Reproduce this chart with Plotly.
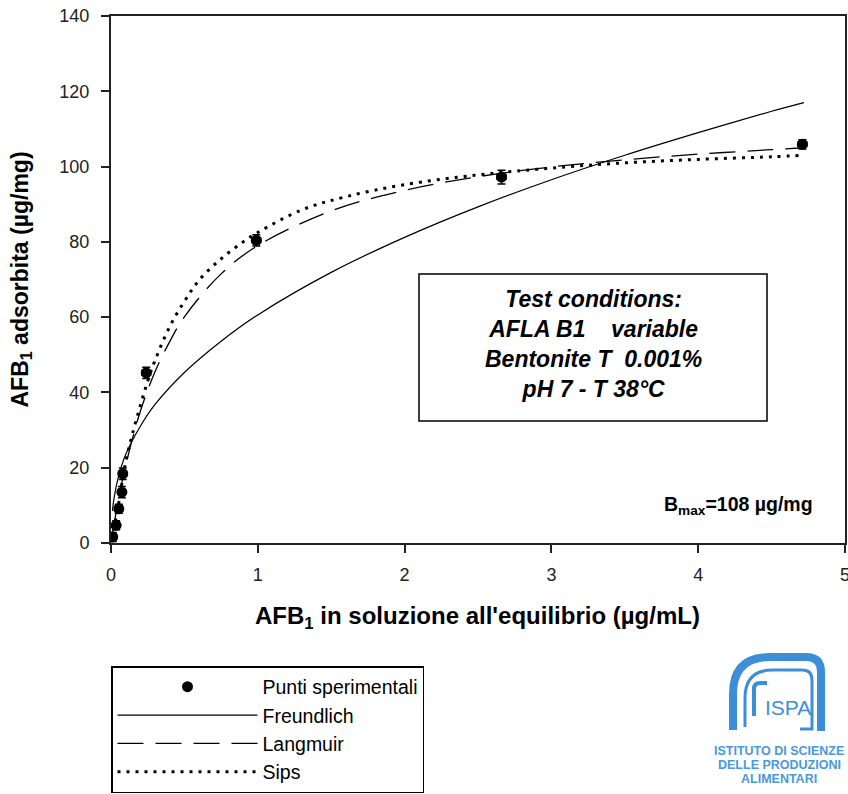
import plotly.graph_objects as go

# ---------------- data ----------------
exp_x = [0.012, 0.035, 0.053, 0.074, 0.080, 0.24, 0.99, 2.66, 4.71]
exp_y = [1.6, 4.7, 9.1, 13.5, 18.4, 45.2, 80.4, 97.2, 105.9]
exp_err_y = [1.2, 1.2, 1.2, 1.5, 1.5, 1.5, 1.5, 1.8, 1.2]
exp_err_x = [0.02, 0.02, 0.02, 0.025, 0.025, 0.03, 0.03, 0.03, 0.03]

freu_x = [0.01, 0.02, 0.05, 0.1, 0.2, 0.3, 0.5, 0.75, 1.0, 1.5, 2.0, 2.5, 3.0, 3.5, 4.0, 4.5, 4.72]
freu_y = [8.5, 11.8, 17.5, 23.5, 31.0, 36.8, 45.3, 53.6, 60.6, 71.9, 81.2, 89.3, 96.5, 103.0, 109.0, 114.7, 117.0]

lang_x = [0.01, 0.02, 0.05, 0.1, 0.2, 0.3, 0.4, 0.5, 0.75, 1.0, 1.5, 2.0, 2.5, 3.0, 3.5, 4.0, 4.5, 4.72]
lang_y = [2.5, 4.8, 11.3, 20.6, 35.0, 45.5, 53.5, 60.1, 71.5, 79.0, 88.2, 93.7, 97.3, 99.9, 101.8, 103.3, 104.5, 105.0]

sips_x = [0.01, 0.02, 0.05, 0.1, 0.15, 0.2, 0.25, 0.3, 0.4, 0.5, 0.6, 0.75, 0.9, 1.0, 1.3, 1.6, 2.0, 2.5, 3.0, 3.5, 4.0, 4.5, 4.72]
sips_y = [1.0, 3.5, 10.0, 21.5, 29.5, 36.5, 43.0, 48.5, 57.5, 64.2, 69.8, 75.5, 80.0, 82.5, 88.5, 92.0, 95.2, 97.8, 99.6, 101.0, 101.9, 102.6, 103.0]

legend_names = ["Punti sperimentali", "Freundlich", "Langmuir", "Sips"]
x_ticks = [0, 1, 2, 3, 4, 5]
y_ticks = [0, 20, 40, 60, 80, 100, 120, 140]

# ---------------- geometry (screen pixels of the reference) ----------------
PLOT_X0, PLOT_X1 = 111, 845  # plot area on screen
PLOT_Y0, PLOT_Y1 = 16, 543
W, H = 848, 794
L = PLOT_X0
T = PLOT_Y0
PW = PLOT_X1 - PLOT_X0
PH = PLOT_Y1 - PLOT_Y0
R = W - L - PW
B = H - T - PH


def px(x):
    return (x - PLOT_X0) / PW


def py(y):
    return (PLOT_Y1 - y) / PH


FONT = "Arial, Liberation Sans, sans-serif"

fig = go.Figure()

fig.add_trace(go.Scatter(
    x=exp_x, y=exp_y, mode="markers", name=legend_names[0],
    marker=dict(color="black", size=11, symbol="circle"),
    error_y=dict(type="data", array=exp_err_y, color="black", thickness=1.5, width=4),
    error_x=dict(type="data", array=exp_err_x, color="black", thickness=1.5, width=3),
))
fig.add_trace(go.Scatter(
    x=freu_x, y=freu_y, mode="lines", name=legend_names[1],
    line=dict(color="black", width=1.2, shape="spline"),
))
fig.add_trace(go.Scatter(
    x=lang_x, y=lang_y, mode="lines", name=legend_names[2],
    line=dict(color="black", width=1.3, dash="26px,12px", shape="spline"),
))
fig.add_trace(go.Scatter(
    x=sips_x, y=sips_y, mode="lines", name=legend_names[3],
    line=dict(color="black", width=3, dash="3px,6px", shape="spline"),
))

axis_font = dict(family=FONT, size=18, color="#222")

common_axis = dict(
    showgrid=False, zeroline=False, showline=True, linecolor="#222", linewidth=2,
    mirror=True, ticks="outside", ticklen=8, tickwidth=1.5, tickcolor="#222",
    tickfont=axis_font, ticklabeloverflow="allow",
)
fig.update_xaxes(range=[0, 5], tickvals=x_ticks, ticktext=[str(v) for v in x_ticks],
                 ticklabelstandoff=6, **common_axis)
fig.update_yaxes(range=[0, 140], tickvals=y_ticks, ticktext=[str(v) for v in y_ticks],
                 ticklabelstandoff=8, **common_axis)

annos = []
# axis titles
annos.append(dict(
    xref="paper", yref="paper", x=px(477), y=py(617), xanchor="center", yanchor="middle",
    text="<b>AFB<sub>1</sub> in soluzione all'equilibrio (µg/mL)</b>", showarrow=False,
    font=dict(family=FONT, size=24, color="black"),
))
annos.append(dict(
    xref="paper", yref="paper", x=px(21), y=0.5, xanchor="center", yanchor="middle",
    text="<b>AFB<sub>1</sub> adsorbita (µg/mg)</b>", showarrow=False, textangle=-90,
    font=dict(family=FONT, size=23, color="black"),
))
# test conditions box text
annos.append(dict(
    xref="paper", yref="paper", x=px(593), y=py(344), xanchor="center", yanchor="middle",
    text="<b><i>Test conditions:<br>AFLA B1    variable<br>Bentonite T  0.001%<br>pH 7 - T 38°C</i></b>",
    showarrow=False, align="center",
    font=dict(family=FONT, size=23, color="black"),
))
# Bmax
annos.append(dict(
    xref="paper", yref="paper", x=px(738), y=py(505), xanchor="center", yanchor="middle",
    text="<b>B<sub>max</sub>=108 µg/mg</b>", showarrow=False,
    font=dict(family=FONT, size=19.5, color="black"),
))
# logo text
logo_blue = "#3d8ed8"
annos.append(dict(
    xref="paper", yref="paper", x=px(788), y=py(707), xanchor="center", yanchor="middle",
    text="ISPA", showarrow=False,
    font=dict(family=FONT, size=21, color=logo_blue),
))
for txt, yy in [("ISTITUTO DI SCIENZE", 751), ("DELLE PRODUZIONI", 765), ("ALIMENTARI", 779)]:
    annos.append(dict(
        xref="paper", yref="paper", x=px(779), y=py(yy), xanchor="center", yanchor="middle",
        text="<b>" + txt + "</b>", showarrow=False,
        font=dict(family=FONT, size=12.5, color="#4b98da"),
    ))

shapes = []
# test conditions box
shapes.append(dict(type="rect", xref="paper", yref="paper",
                   x0=px(419), x1=px(767), y0=py(421), y1=py(274),
                   line=dict(color="black", width=1.5), fillcolor="white", layer="below"))


def path(cmds):
    out = []
    for c in cmds:
        if isinstance(c, str):
            out.append(c)
        else:
            out.append(f"{px(c[0]):.5f},{py(c[1]):.5f}")
    return " ".join(out)


# logo arcs
shapes.append(dict(type="path", xref="paper", yref="paper",
                   path=path(["M", (733, 730), "L", (733, 694), "Q", (733, 657), (770, 657),
                              "L", (806, 657), "Q", (821, 657), (821, 672), "L", (821, 731)]),
                   line=dict(color=logo_blue, width=8)))
shapes.append(dict(type="path", xref="paper", yref="paper",
                   path=path(["M", (745, 727), "L", (745, 698), "Q", (745, 670), (773, 670),
                              "L", (802, 670), "Q", (812, 670), (812, 680), "L", (812, 729),
                              "L", (800, 729)]),
                   line=dict(color=logo_blue, width=3)))
shapes.append(dict(type="path", xref="paper", yref="paper",
                   path=path(["M", (754, 716), "L", (754, 689), "Q", (754, 683), (760, 683),
                              "L", (767, 683)]),
                   line=dict(color=logo_blue, width=4)))

fig.update_layout(
    width=W, height=H,
    margin=dict(l=L, r=R, t=T, b=B, autoexpand=False),
    paper_bgcolor="white", plot_bgcolor="white",
    font=dict(family=FONT, color="black"),
    showlegend=True,
    legend=dict(
        x=0, y=py(666), xanchor="left", yanchor="top",
        bordercolor="black", borderwidth=1.5, bgcolor="white",
        font=dict(family=FONT, size=19.5, color="black"),
        itemwidth=140, tracegroupgap=0,
    ),
    annotations=annos,
    shapes=shapes,
)

fig.write_html(
    "out.html",
    config={"displayModeBar": False},
    post_script="document.body.style.margin='0px';document.body.style.overflow='hidden';",
)
